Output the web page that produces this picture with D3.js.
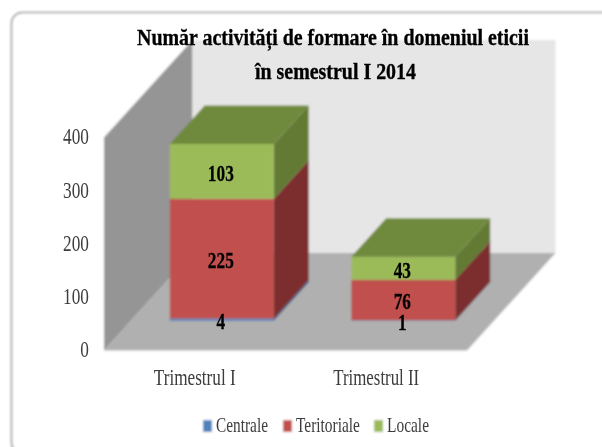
<!DOCTYPE html>
<html><head><meta charset="utf-8">
<script src="https://cdn.jsdelivr.net/npm/d3@7/dist/d3.min.js"></script>
<style>html,body{margin:0;padding:0;background:#fff}svg{display:block}text{font-family:"Liberation Serif",serif}</style>
</head><body><div id="c"></div>
<script>
const categories = ["Trimestrul I", "Trimestrul II"];
const seriesNames = ["Centrale", "Teritoriale", "Locale"];
const centrale = [4, 1];
const teritoriale = [225, 76];
const locale = [103, 43];
const yTicks = [0, 100, 200, 300, 400];
const titleLines = ["Număr activități de formare în domeniul eticii", "în semestrul I 2014"];

const W = 602, H = 447;
const colors = {
  Centrale: {front: "#4f81bd", side: "#3a5f8c", top: "#446f9f"},
  Teritoriale: {front: "#c0504d", side: "#7b2f2d", top: "#8f3a37"},
  Locale: {front: "#9bbb59", side: "#637a35", top: "#6f8a3c"}
};
const svg = d3.select("#c").append("svg").attr("width", W).attr("height", H);
const defs = svg.append("defs");
const mkBlur = (id, sd) => defs.append("filter").attr("id", id).attr("x", "-5%").attr("y", "-5%").attr("width", "110%").attr("height", "110%")
  .append("feGaussianBlur").attr("stdDeviation", sd);
mkBlur("soft", 0.8);
mkBlur("softText", 0.45);
const root = svg.append("g").attr("filter", "url(#soft)");
const labels = svg.append("g").attr("filter", "url(#softText)");

const x = d3.scaleBand().domain(categories).range([104, 467]).paddingInner(0.427).paddingOuter(0.2135);
const y = d3.scaleLinear().domain([0, 400]).range([350.5, 137.5]);
const depthX = d3.scaleLinear().domain([0, 1]).range([0, 88.5]);
const depthY = d3.scaleLinear().domain([0, 1]).range([0, -97.5]);
const P = (px, v, t) => [px + depthX(t), y(v) + depthY(t)];
const poly = pts => pts.map(p => p.join(",")).join(" ");

// squeezes a text horizontally to a target width, about its own anchor
function fit(sel, width, anchorX) {
  const n = sel.node().getComputedTextLength();
  const k = width / n;
  sel.attr("transform", `translate(${anchorX},0) scale(${k},1) translate(${-anchorX},0)`);
  return sel;
}

// frame
root.append("rect").attr("x", 11.5).attr("y", 12.5).attr("width", 640).attr("height", 441)
  .attr("rx", 11).attr("fill", "#fff").attr("stroke", "#9a9a9a").attr("stroke-width", 1.6);

// walls and floor
const x0 = 104, x1 = 467;
root.append("polygon").attr("points", poly([P(x0,0,0), P(x0,400,0), P(x0,400,1), P(x0,0,1)])).attr("fill", "#959595");
root.append("polygon").attr("points", poly([P(x0,0,1), P(x0,400,1), P(x1,400,1), P(x1,0,1)])).attr("fill", "#e6e6e6");
root.append("polygon").attr("points", poly([P(x0,0,0), P(x0,0,1), P(x1,0,1), P(x1,0,0)])).attr("fill", "#b0b0b0");

// bars
const stack = d3.stack().keys(seriesNames)(categories.map((c, i) => ({
  cat: c, Centrale: centrale[i], Teritoriale: teritoriale[i], Locale: locale[i]
})));
const t0 = 0.306, t1 = 0.70;
categories.forEach((c, i) => {
  const a = x(c), b = a + x.bandwidth();
  const g = root.append("g");
  stack.forEach(s => {
    const [lo, hi] = s[i];
    const col = colors[s.key];
    g.append("polygon").attr("points", poly([P(b,lo,t0), P(b,hi,t0), P(b,hi,t1), P(b,lo,t1)])).attr("fill", col.side);
    g.append("polygon").attr("points", poly([P(a,lo,t0), P(a,hi,t0), P(b,hi,t0), P(b,lo,t0)])).attr("fill", col.front);
  });
  const topS = stack[stack.length - 1];
  const h = topS[i][1];
  g.append("polygon").attr("points", poly([P(a,h,t0), P(a,h,t1), P(b,h,t1), P(b,h,t0)])).attr("fill", colors[topS.key].top);
});
// data labels
categories.forEach((c, i) => {
  const cx = x(c) + x.bandwidth() / 2 - 1;
  stack.forEach(s => {
    const [lo, hi] = s[i];
    const p = P(cx, (lo + hi) / 2, t0);
    labels.append("text").attr("x", p[0]).attr("y", p[1] + 1).attr("dy", "0.35em").attr("text-anchor", "middle")
      .attr("font-size", 24).attr("font-weight", "bold").attr("fill", "#000")
      .attr("stroke", "#000").attr("stroke-width", 0.3)
      .attr("transform", `translate(${p[0]},0) scale(0.72,1) translate(${-p[0]},0)`)
      .text(hi - lo);
  });
});

// y axis labels
yTicks.forEach(t => {
  labels.append("text").attr("x", 89).attr("y", y(t) - 1).attr("dy", "0.33em").attr("text-anchor", "end")
    .attr("font-size", 24).attr("fill", "#3c3c3c")
    .attr("transform", `translate(89,0) scale(0.72,1) translate(-89,0)`).text(t);
});
// category labels
categories.forEach((c, i) => {
  const cx = x(c) + x.bandwidth() / 2;
  fit(labels.append("text").attr("x", cx).attr("y", 385).attr("text-anchor", "middle")
    .attr("font-size", 23).attr("fill", "#3c3c3c").text(c), [82, 86][i], cx);
});
// title
titleLines.forEach((t, i) => {
  const cx = [333, 335.5][i];
  fit(labels.append("text").attr("x", cx).attr("y", [45, 79][i]).attr("text-anchor", "middle")
    .attr("font-size", 24).attr("font-weight", "bold").attr("fill", "#000")
    .attr("stroke", "#000").attr("stroke-width", 0.35).text(t), [392, 161][i], cx);
});
// legend
const legendX = [203, 283, 374], legendLen = [52, 64, 42];
seriesNames.forEach((n, i) => {
  root.append("rect").attr("x", legendX[i]).attr("y", 420).attr("width", 9).attr("height", 12).attr("fill", colors[n].front);
  const tx = legendX[i] + 13;
  fit(labels.append("text").attr("x", tx).attr("y", 432).attr("font-size", 20).attr("fill", "#3c3c3c").text(n), legendLen[i], tx);
});
</script></body></html>
